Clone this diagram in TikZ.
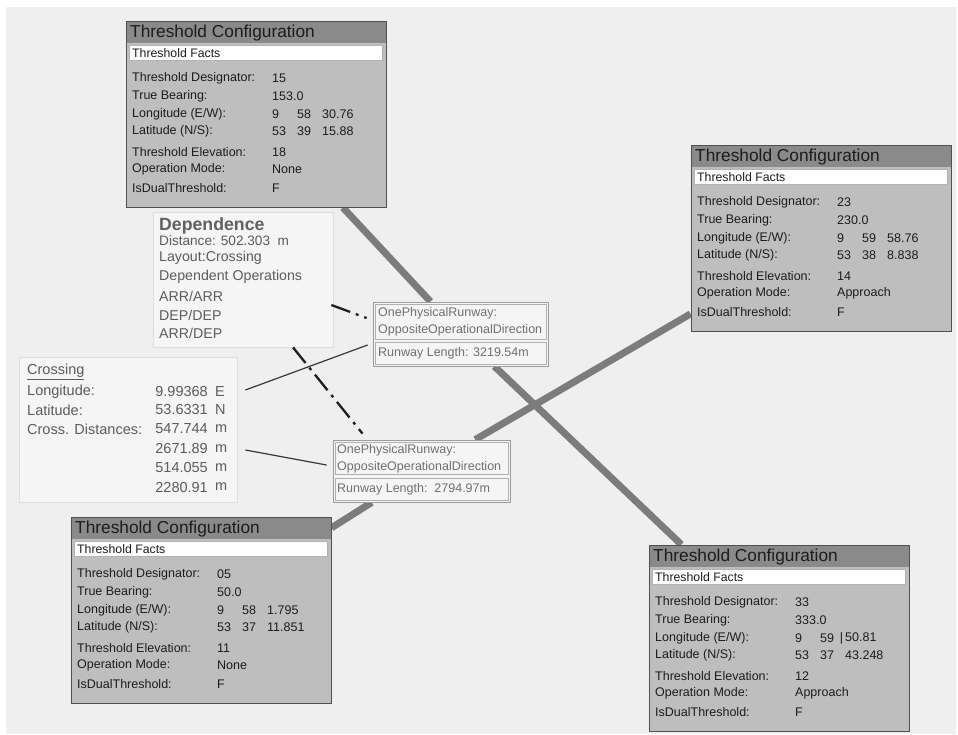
\documentclass[tikz,border=0pt]{standalone}
\usepackage{fontspec}
\setmainfont{Liberation Sans}
\usetikzlibrary{calc}
\pgfdeclarelayer{bg}
\pgfsetlayers{bg,main}
\definecolor{canvas}{HTML}{EFEFEF}
\definecolor{thfill}{HTML}{BEBEBE}
\definecolor{thhdr}{HTML}{8A8A8A}
\definecolor{thborder}{HTML}{505050}
\definecolor{thtext}{HTML}{1C1C1C}
\definecolor{rwcol}{HTML}{7C7C7C}
\definecolor{infofill}{HTML}{F5F5F5}
\definecolor{infoborder}{HTML}{DEDEDE}
\definecolor{infotext}{HTML}{5C5C5C}
\definecolor{rwbord}{HTML}{9C9C9C}
\definecolor{rwtext}{HTML}{707070}
\tikzset{
  thbody/.style={draw=thborder, fill=thfill, line width=1pt, minimum width=260pt, minimum height=186pt, inner sep=0pt},
  thhead/.style={fill=thhdr},
  factbar/.style={fill=white, draw=white!70!black, line width=0.6pt},
  thtitle/.style={anchor=west, inner sep=0pt, text=thtext, font=\fontsize{17.3}{19}\selectfont},
  thfact/.style={anchor=west, inner sep=0pt, text=thtext, font=\fontsize{12.3}{14}\selectfont},
  thlab/.style={anchor=west, inner sep=0pt, text=thtext, font=\fontsize{12.5}{14}\selectfont},
  runwayline/.style={draw=rwcol, line width=7pt},
  infobox/.style={draw=infoborder, fill=infofill, line width=0.8pt, inner sep=0pt},
  deptext/.style={anchor=west, inner sep=0pt, text=infotext, font=\fontsize{14.2}{16}\selectfont},
  crtext/.style={inner sep=0pt, text=infotext, font=\fontsize{14.5}{16}\selectfont},
  rwbox/.style={draw=rwbord, fill=white!96!black, line width=0.8pt, inner sep=0pt},
  rwinner/.style={draw=rwbord!80!white, line width=0.7pt},
  rwlab/.style={anchor=west, inner sep=0pt, text=rwtext, font=\fontsize{12.5}{14}\selectfont},
  crossline/.style={draw=black!78, line width=1.2pt},
  depline/.style={draw=black!88, line width=2.3pt, dash pattern=on 20pt off 6pt on 3pt off 6pt}
}
\newcommand\ThrCols[4]{%
  \node[thlab] at (146,#1) {#2};
  \node[thlab] at (171,#1) {#3};
  \node[thlab] at (196,#1) {#4};}
\newcommand\ThrBox[9]{%
\begin{scope}[shift={(#2,#3)}]
  \node[thbody] (#1) at (130,93) {};
  \fill[thhead] (0.5,0.5) rectangle (259.5,22);
  \draw[factbar] (3.5,24) rectangle (256.5,39.5);
  \node[thtitle] at (4,12) {Threshold Configuration};
  \node[thfact] at (6,31.8) {Threshold Facts};
  \node[thlab] at (6,57) {Threshold Designator:};
  \node[thlab] at (146,57) {#4};
  \node[thlab] at (6,75) {True Bearing:};
  \node[thlab] at (146,75) {#5};
  \node[thlab] at (6,93) {Longitude (E/W):};
  \ThrCols{93}#6
  \node[thlab] at (6,110.5) {Latitude (N/S):};
  \ThrCols{110.5}#7
  \node[thlab] at (6,131) {Threshold Elevation:};
  \node[thlab] at (146,131) {#8};
  \node[thlab] at (6,148) {Operation Mode:};
  \node[thlab] at (146,148) {#9};
  \node[thlab] at (6,167) {IsDualThreshold:};
  \node[thlab] at (146,167) {F};
\end{scope}}
\begin{document}
\begin{tikzpicture}[x=1pt,y=-1pt]
\useasboundingbox (0,0) rectangle (958,734);
\begin{pgfonlayer}{bg}
  \fill[white] (0,0) rectangle (958,734);
  \fill[canvas] (6,7) rectangle (956,734);
\end{pgfonlayer}

% Threshold configuration boxes
\ThrBox{tl}{126}{21}{15}{153.0}{{9}{58}{30.76}}{{53}{39}{15.88}}{18}{None}
\ThrBox{tr}{691}{145}{23}{230.0}{{9}{59}{58.76}}{{53}{38}{8.838}}{14}{Approach}
\ThrBox{bl}{71}{517}{05}{50.0}{{9}{58}{1.795}}{{53}{37}{11.851}}{11}{None}
\ThrBox{br}{649}{545}{33}{333.0}{{9}{59}{\llap{|\,}50.81}}{{53}{37}{43.248}}{12}{Approach}

% Dependence box
\node[infobox, minimum width=180pt, minimum height=135pt] (dep) at (243,279.5) {};
\node[deptext, text=black!62, font=\bfseries\fontsize{17.7}{19}\selectfont] at (159,226) {Dependence};
\node[deptext, font=\fontsize{13.6}{15}\selectfont] at (159,241) {Distance: 502.303~~m};
\node[deptext] at (159,258) {Layout:Crossing};
\node[deptext] at (159,277) {Dependent Operations};
\node[deptext] at (159,296) {ARR/ARR};
\node[deptext] at (159,315) {DEP/DEP};
\node[deptext] at (159,333) {ARR/DEP};

% Crossing box
\node[infobox, minimum width=218pt, minimum height=145pt] (cr) at (128,429.5) {};
\node[crtext, anchor=west] at (27,372) {\underline{Crossing}};
\node[crtext, anchor=west] at (27,392) {Longitude:};
\node[crtext, anchor=west] at (27,410) {Latitude:};
\node[crtext, anchor=west] at (27,429) {Cross. Distances:};
\node[crtext, anchor=east] at (208,392) {9.99368};
\node[crtext, anchor=east] at (208,410) {53.6331};
\node[crtext, anchor=east] at (208,429) {547.744};
\node[crtext, anchor=east] at (208,449) {2671.89};
\node[crtext, anchor=east] at (208,468) {514.055};
\node[crtext, anchor=east] at (208,487) {2280.91};
\node[crtext, anchor=west] at (215,392) {E};
\node[crtext, anchor=west] at (215,410) {N};
\node[crtext, anchor=west] at (215,429) {m};
\node[crtext, anchor=west] at (215,449) {m};
\node[crtext, anchor=west] at (215,468) {m};
\node[crtext, anchor=west] at (215,487) {m};

% Runway nodes
\node[rwbox, minimum width=175pt, minimum height=64pt] (rw1) at (460.5,334) {};
\draw[rwinner] ($(rw1.north west)+(2.5,2.5)$) rectangle ($(rw1.north east)+(-2.5,38)$);
\draw[rwinner] ($(rw1.south west)+(2.5,-24)$) rectangle ($(rw1.south east)+(-2.5,-2.5)$);
\begin{scope}
  \clip ($(rw1.north west)+(2.5,2.5)$) rectangle ($(rw1.north east)+(-3,38)$);
  \node[rwlab] at (378,313) {OnePhysicalRunway:};
  \node[rwlab] at (378,330) {OppositeOperationalDirection};
\end{scope}
\node[rwlab] at (378,353) {Runway Length: 3219.54m};

\node[rwbox, minimum width=177pt, minimum height=62pt] (rw2) at (421.5,471) {};
\draw[rwinner] ($(rw2.north west)+(2.5,2.5)$) rectangle ($(rw2.north east)+(-2.5,35)$);
\draw[rwinner] ($(rw2.south west)+(2.5,-24)$) rectangle ($(rw2.south east)+(-2.5,-2.5)$);
\begin{scope}
  \clip ($(rw2.north west)+(2.5,2.5)$) rectangle ($(rw2.north east)+(-3,35)$);
  \node[rwlab] at (337,450) {OnePhysicalRunway:};
  \node[rwlab] at (337,467) {OppositeOperationalDirection};
\end{scope}
\node[rwlab] at (337,489) {Runway Length:~~2794.97m};

% Thick runway connectors
\begin{pgfonlayer}{bg}
  \draw[runwayline] (tl) -- (rw1);
  \draw[runwayline] (rw1) -- (br);
  \draw[runwayline] (tr) -- (rw2);
  \draw[runwayline] (rw2) -- (bl);
\end{pgfonlayer}

% Crossing connectors
\draw[crossline] ($(cr.east)+(8,-39.5)$) -- ($(rw1.west)+(-5,11)$);
\draw[crossline] ($(cr.east)+(8,20.5)$) -- ($(rw2.west)+(-6,-6)$);

% Dependence connectors
\draw[depline] ($(dep.east)+(-2,25.5)$) -- ($(rw1.west)+(-6,-16)$);
\draw[depline] ($(dep.south)+(50,0)$) -- ($(rw2.north)+(-59,-6)$);
\end{tikzpicture}
\end{document}
